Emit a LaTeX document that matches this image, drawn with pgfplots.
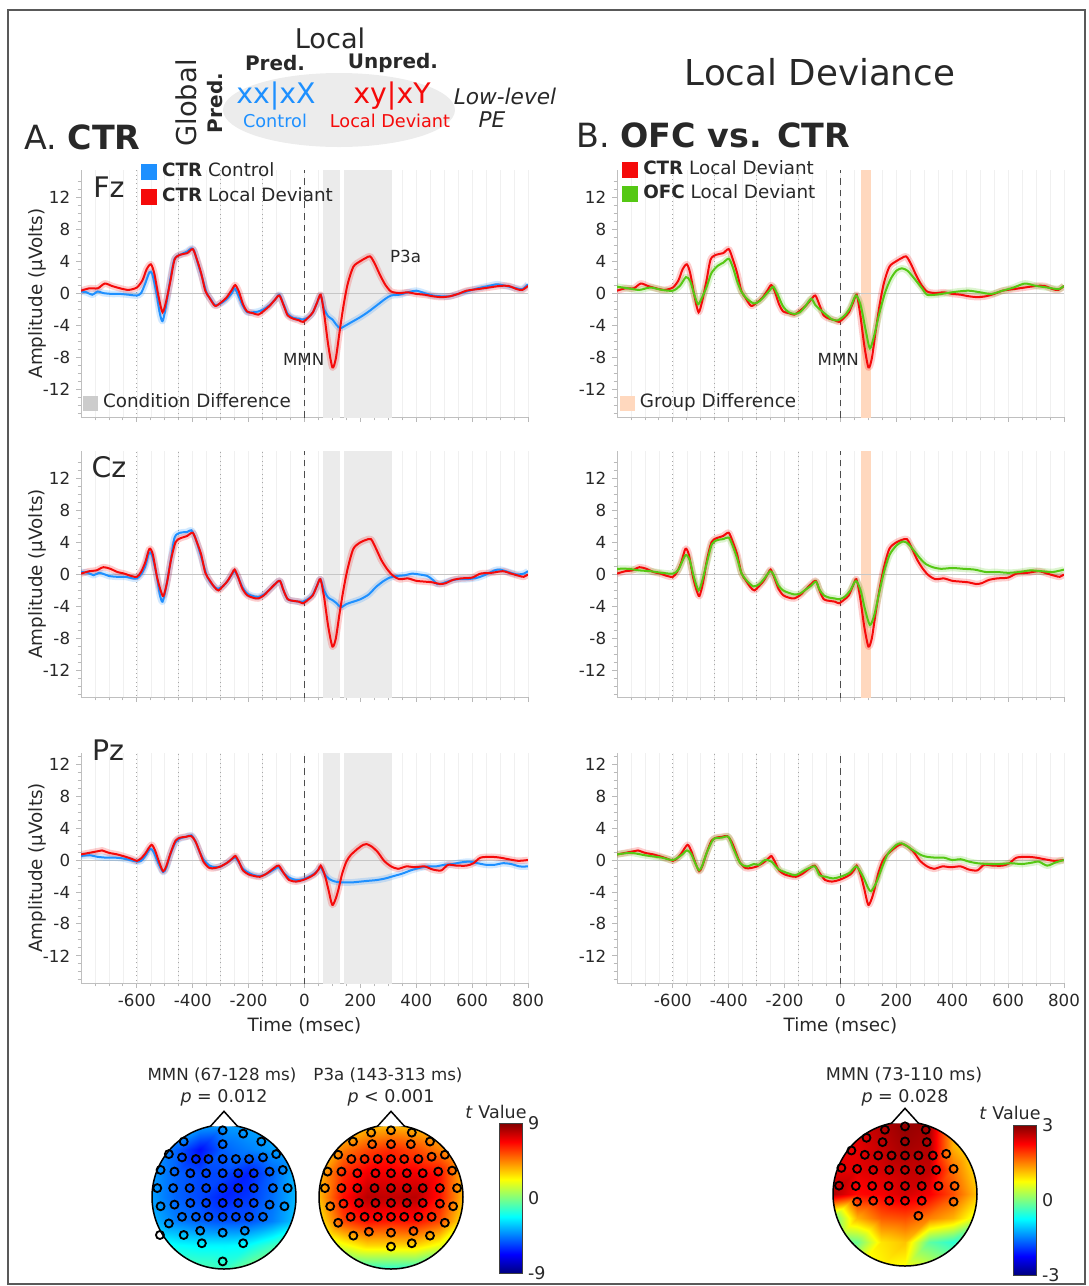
\documentclass[border=0pt]{standalone}
\usepackage{fontspec}
\setmainfont{DejaVu Sans}
\usepackage{pgfplots}
\usepackage{pgfplotstable}
\pgfplotsset{compat=1.18}

\definecolor{ctrblue}{RGB}{30,144,255}
\definecolor{ldred}{RGB}{245,10,10}
\definecolor{ofcgreen}{RGB}{85,200,20}
\definecolor{shadegray}{RGB}{235,235,235}
\definecolor{salmon}{RGB}{255,216,190}
\definecolor{txt}{RGB}{40,40,40}

% ERP traces, msec vs microvolts
\pgfplotstableread[row sep=\\]{t v\\
-800 0.3\\ -770 0.6\\ -740 0.6\\ -715 1.2\\ -690 0.9\\ -660 0.6\\ -630 0.4\\ -600 0.7\\
-580 1.6\\ -565 3.0\\ -550 3.6\\ -538 2.5\\ -522 -0.5\\ -508 -2.4\\ -495 -1.0\\ -480 1.5\\
-465 4.2\\ -445 4.8\\ -420 5.0\\ -400 5.5\\ -385 4.2\\ -370 2.5\\ -355 0.3\\ -340 -0.6\\
-320 -1.6\\ -300 -1.2\\ -280 -0.6\\ -260 0.4\\ -248 1.0\\ -235 0.2\\ -220 -1.4\\ -205 -2.3\\
-185 -2.5\\ -165 -2.7\\ -145 -2.2\\ -125 -1.6\\ -105 -0.8\\ -90 -0.3\\ -75 -1.5\\ -60 -2.8\\
-40 -3.2\\ -20 -3.4\\ -5 -3.6\\ 15 -3.0\\ 30 -2.4\\ 45 -1.2\\ 58 -0.2\\ 70 -2.5\\
85 -6.5\\ 100 -9.3\\ 112 -8.2\\ 125 -5.0\\ 140 -1.5\\ 155 1.2\\ 175 3.3\\ 200 4.0\\
220 4.4\\ 235 4.6\\ 250 3.8\\ 270 2.3\\ 290 1.0\\ 310 0.2\\ 340 0.0\\ 370 0.1\\
400 -0.1\\ 430 -0.2\\ 460 -0.4\\ 490 -0.5\\ 520 -0.4\\ 550 -0.1\\ 580 0.3\\ 620 0.5\\
660 0.7\\ 700 0.9\\ 730 0.9\\ 760 0.5\\ 780 0.4\\ 800 0.9\\
}\fzred
\pgfplotstableread[row sep=\\]{t v\\
-800 0.2\\ -780 0.1\\ -760 -0.2\\ -740 0.2\\ -720 0.0\\ -690 -0.1\\ -660 -0.1\\ -630 -0.2\\
-600 -0.3\\ -585 0.0\\ -570 1.2\\ -555 2.6\\ -545 2.4\\ -530 0.0\\ -518 -2.5\\ -508 -3.5\\
-495 -1.5\\ -480 1.8\\ -465 4.3\\ -445 4.8\\ -420 5.2\\ -405 5.6\\ -395 5.3\\ -380 3.5\\
-365 1.8\\ -350 0.0\\ -335 -0.8\\ -320 -1.5\\ -300 -1.3\\ -280 -0.8\\ -260 0.0\\ -250 0.6\\
-238 -0.2\\ -222 -1.5\\ -205 -2.4\\ -185 -2.4\\ -165 -2.3\\ -145 -2.0\\ -125 -1.5\\ -105 -0.8\\
-90 -0.2\\ -75 -1.4\\ -60 -2.6\\ -40 -3.1\\ -20 -3.2\\ -5 -3.3\\ 15 -3.0\\ 30 -2.4\\
45 -1.2\\ 58 -0.3\\ 70 -2.0\\ 85 -2.9\\ 100 -3.3\\ 115 -4.0\\ 128 -4.4\\ 145 -4.1\\
170 -3.6\\ 200 -3.0\\ 230 -2.3\\ 260 -1.5\\ 290 -0.7\\ 310 -0.3\\ 340 -0.2\\ 370 0.1\\
400 0.3\\ 430 0.0\\ 460 -0.3\\ 490 -0.4\\ 520 -0.4\\ 550 -0.1\\ 580 0.2\\ 620 0.6\\
660 0.9\\ 690 1.1\\ 720 0.9\\ 760 0.6\\ 780 0.5\\ 800 1.1\\
}\fzblue
\pgfplotstableread[row sep=\\]{t v\\
-800 0.8\\ -760 0.6\\ -720 0.4\\ -680 0.7\\ -640 0.4\\ -600 0.3\\ -575 0.9\\ -553 2.0\\
-538 1.5\\ -525 0.0\\ -510 -1.4\\ -495 -0.5\\ -480 0.7\\ -462 2.5\\ -440 3.4\\ -420 3.8\\
-400 4.3\\ -385 3.2\\ -370 1.5\\ -355 0.2\\ -335 -0.7\\ -310 -1.3\\ -290 -1.0\\ -270 -0.3\\
-250 0.5\\ -240 0.8\\ -225 -0.2\\ -205 -1.7\\ -185 -2.4\\ -165 -2.6\\ -145 -2.4\\ -125 -1.6\\
-105 -0.7\\ -90 -1.5\\ -75 -2.0\\ -55 -2.6\\ -30 -3.3\\ -10 -3.4\\ 15 -2.8\\ 35 -1.8\\
55 -0.3\\ 72 -1.5\\ 90 -4.6\\ 105 -6.9\\ 120 -5.4\\ 140 -2.4\\ 160 0.1\\ 180 1.8\\
200 2.8\\ 220 3.1\\ 240 2.8\\ 260 2.0\\ 290 0.7\\ 310 -0.2\\ 340 -0.2\\ 380 0.0\\
420 0.2\\ 460 0.3\\ 500 0.1\\ 540 -0.1\\ 580 0.3\\ 620 0.7\\ 660 1.2\\ 700 0.9\\
740 0.7\\ 780 0.5\\ 800 0.9\\
}\fzgreen
\pgfplotstableread[row sep=\\]{t v\\
-800 0.1\\ -770 0.4\\ -745 0.5\\ -720 0.9\\ -695 0.7\\ -670 0.3\\ -645 0.1\\ -620 -0.2\\
-600 -0.3\\ -585 0.3\\ -570 1.5\\ -555 3.2\\ -543 2.5\\ -528 -0.3\\ -515 -2.0\\ -505 -2.7\\
-492 -1.0\\ -478 1.8\\ -462 4.0\\ -445 4.5\\ -420 4.8\\ -400 5.2\\ -385 4.0\\ -370 2.5\\
-355 0.2\\ -340 -0.7\\ -322 -1.6\\ -308 -2.0\\ -290 -1.4\\ -275 -0.8\\ -258 0.2\\ -250 0.6\\
-238 -0.3\\ -222 -1.8\\ -205 -2.6\\ -185 -2.9\\ -165 -3.0\\ -145 -2.6\\ -125 -1.9\\ -105 -1.2\\
-88 -0.8\\ -75 -2.0\\ -60 -3.1\\ -40 -3.3\\ -20 -3.4\\ -5 -3.6\\ 15 -3.1\\ 30 -2.6\\
45 -1.4\\ 57 -0.6\\ 70 -2.8\\ 85 -6.5\\ 100 -9.0\\ 112 -8.0\\ 125 -5.0\\ 140 -1.8\\
155 0.8\\ 175 3.2\\ 200 4.0\\ 220 4.3\\ 238 4.4\\ 255 3.3\\ 275 1.8\\ 295 0.7\\
315 -0.1\\ 340 -0.6\\ 370 -0.5\\ 400 -0.8\\ 430 -0.9\\ 460 -1.0\\ 485 -1.2\\ 505 -1.1\\
530 -0.7\\ 560 -0.5\\ 600 -0.4\\ 630 0.1\\ 670 0.2\\ 710 0.4\\ 740 0.1\\ 770 -0.2\\
785 -0.3\\ 800 0.0\\
}\czred
\pgfplotstableread[row sep=\\]{t v\\
-800 0.3\\ -775 0.2\\ -755 -0.1\\ -735 0.2\\ -715 0.0\\ -700 -0.2\\ -670 -0.3\\ -640 -0.3\\
-615 -0.5\\ -600 -0.5\\ -585 0.0\\ -570 1.0\\ -556 2.7\\ -546 2.4\\ -530 0.0\\ -518 -2.5\\
-508 -3.4\\ -495 -1.5\\ -480 1.5\\ -465 4.6\\ -445 5.2\\ -420 5.3\\ -405 5.5\\ -390 4.5\\
-375 2.8\\ -360 1.0\\ -348 -0.3\\ -330 -1.3\\ -310 -1.8\\ -290 -1.4\\ -275 -0.8\\ -258 0.1\\
-250 0.4\\ -238 -0.3\\ -222 -1.6\\ -205 -2.4\\ -185 -2.7\\ -165 -2.8\\ -145 -2.5\\ -125 -1.9\\
-105 -1.2\\ -88 -0.8\\ -75 -2.0\\ -60 -3.1\\ -40 -3.3\\ -20 -3.4\\ -5 -3.4\\ 15 -3.0\\
30 -2.5\\ 45 -1.4\\ 57 -0.6\\ 70 -2.0\\ 85 -2.9\\ 100 -3.2\\ 115 -3.6\\ 130 -4.1\\
150 -3.7\\ 175 -3.4\\ 200 -3.1\\ 230 -2.5\\ 255 -1.6\\ 280 -0.9\\ 305 -0.4\\ 330 -0.2\\
360 -0.1\\ 385 0.1\\ 410 0.0\\ 440 -0.2\\ 460 -0.7\\ 475 -1.2\\ 495 -1.1\\ 520 -0.8\\
550 -0.6\\ 580 -0.6\\ 620 -0.4\\ 650 0.0\\ 680 0.5\\ 700 0.6\\ 730 0.3\\ 760 0.0\\
785 0.1\\ 800 0.4\\
}\czblue
\pgfplotstableread[row sep=\\]{t v\\
-800 0.7\\ -760 0.7\\ -720 0.5\\ -680 0.4\\ -640 0.2\\ -600 0.1\\ -580 0.6\\ -555 2.4\\
-540 1.8\\ -525 -0.3\\ -508 -2.0\\ -495 -0.8\\ -478 1.5\\ -460 3.8\\ -440 4.3\\ -420 4.4\\
-400 4.6\\ -385 3.5\\ -370 2.0\\ -355 0.2\\ -335 -0.8\\ -312 -1.5\\ -290 -1.2\\ -270 -0.4\\
-252 0.4\\ -240 0.0\\ -222 -1.4\\ -205 -2.0\\ -185 -2.3\\ -165 -2.5\\ -145 -2.4\\ -125 -1.9\\
-105 -1.4\\ -88 -0.9\\ -75 -1.9\\ -60 -2.6\\ -40 -2.9\\ -20 -3.0\\ -5 -3.1\\ 15 -2.8\\
35 -2.0\\ 55 -0.8\\ 72 -2.0\\ 88 -4.4\\ 105 -6.3\\ 120 -5.2\\ 138 -2.4\\ 155 0.2\\
175 2.4\\ 200 3.6\\ 222 4.1\\ 240 3.9\\ 262 3.0\\ 285 2.0\\ 305 1.3\\ 330 0.9\\
360 0.7\\ 400 0.8\\ 440 0.7\\ 480 0.6\\ 520 0.3\\ 560 0.3\\ 600 0.2\\ 640 0.3\\
680 0.5\\ 720 0.4\\ 760 0.3\\ 800 0.6\\
}\czgreen
\pgfplotstableread[row sep=\\]{t v\\
-800 0.7\\ -770 0.9\\ -740 1.1\\ -725 1.2\\ -700 0.9\\ -670 0.7\\ -640 0.4\\ -615 0.1\\
-600 -0.1\\ -585 0.2\\ -570 0.8\\ -548 1.9\\ -535 1.2\\ -520 -0.3\\ -506 -1.4\\ -495 -0.8\\
-480 0.8\\ -462 2.4\\ -445 2.8\\ -425 2.9\\ -405 3.0\\ -390 2.3\\ -375 1.0\\ -360 -0.3\\
-340 -1.0\\ -320 -1.0\\ -300 -0.8\\ -275 -0.3\\ -255 0.3\\ -247 0.5\\ -235 -0.2\\ -220 -1.3\\
-200 -1.8\\ -180 -2.0\\ -160 -2.1\\ -140 -1.8\\ -124 -1.4\\ -105 -0.9\\ -92 -0.7\\ -75 -1.6\\
-55 -2.5\\ -30 -2.7\\ -5 -2.5\\ 15 -2.2\\ 35 -1.8\\ 50 -1.2\\ 58 -0.7\\ 72 -1.8\\
85 -3.6\\ 99 -5.6\\ 110 -5.0\\ 120 -3.9\\ 135 -1.7\\ 150 -0.2\\ 165 0.6\\ 190 1.4\\
210 1.9\\ 222 2.0\\ 240 1.7\\ 262 1.0\\ 285 -0.1\\ 310 -0.8\\ 335 -1.1\\ 365 -0.8\\
395 -0.9\\ 430 -0.8\\ 460 -1.2\\ 490 -1.3\\ 514 -0.6\\ 545 -0.7\\ 580 -0.7\\ 605 -0.4\\
630 0.3\\ 670 0.4\\ 700 0.3\\ 730 0.1\\ 765 -0.1\\ 800 0.0\\
}\pzred
\pgfplotstableread[row sep=\\]{t v\\
-800 0.5\\ -770 0.6\\ -740 0.4\\ -710 0.3\\ -680 0.3\\ -650 0.2\\ -625 0.0\\ -600 -0.2\\
-585 -0.1\\ -570 0.5\\ -552 1.4\\ -540 1.0\\ -522 -0.5\\ -506 -1.5\\ -495 -1.0\\ -480 0.7\\
-462 2.2\\ -445 2.7\\ -425 2.9\\ -405 3.1\\ -390 2.3\\ -375 1.0\\ -360 0.0\\ -340 -0.7\\
-320 -0.9\\ -300 -0.8\\ -275 -0.3\\ -255 0.2\\ -247 0.3\\ -235 -0.3\\ -220 -1.1\\ -200 -1.6\\
-180 -1.9\\ -160 -2.0\\ -140 -1.8\\ -124 -1.5\\ -105 -1.1\\ -92 -0.9\\ -75 -1.6\\ -55 -2.2\\
-30 -2.5\\ -5 -2.4\\ 15 -2.1\\ 35 -1.7\\ 50 -1.2\\ 58 -0.9\\ 72 -1.8\\ 90 -2.4\\
110 -2.7\\ 135 -2.8\\ 170 -2.8\\ 200 -2.7\\ 230 -2.6\\ 260 -2.5\\ 290 -2.3\\ 320 -2.0\\
350 -1.7\\ 380 -1.3\\ 410 -1.0\\ 440 -0.8\\ 470 -0.8\\ 500 -0.6\\ 530 -0.5\\ 560 -0.3\\
590 -0.2\\ 620 -0.4\\ 650 -0.6\\ 680 -0.6\\ 710 -0.4\\ 740 -0.5\\ 770 -0.8\\ 800 -0.8\\
}\pzblue
\pgfplotstableread[row sep=\\]{t v\\
-800 0.7\\ -750 0.9\\ -700 0.6\\ -640 0.3\\ -600 0.0\\ -570 0.6\\ -550 1.2\\ -535 0.8\\
-520 -0.4\\ -506 -1.3\\ -495 -0.7\\ -480 0.8\\ -455 2.6\\ -425 2.8\\ -401 2.9\\ -383 1.4\\
-359 -0.4\\ -335 -0.8\\ -310 -0.5\\ -293 -0.6\\ -270 0.0\\ -247 -0.2\\ -220 -1.2\\ -184 -1.7\\
-160 -1.9\\ -124 -1.2\\ -92 -0.8\\ -75 -1.9\\ -52 -2.1\\ -28 -2.3\\ 0 -2.1\\ 33 -1.6\\
57 -0.8\\ 81 -2.1\\ 99 -3.5\\ 110 -3.9\\ 130 -2.7\\ 150 -0.8\\ 170 0.8\\ 200 1.9\\
219 2.1\\ 240 1.7\\ 261 1.2\\ 290 0.6\\ 310 0.4\\ 340 0.3\\ 370 0.3\\ 400 0.0\\
430 0.1\\ 460 -0.2\\ 490 -0.4\\ 530 -0.5\\ 570 -0.5\\ 610 -0.4\\ 650 -0.5\\ 690 -0.3\\
710 -0.2\\ 740 -0.7\\ 770 -0.3\\ 800 0.0\\
}\pzgreen

\pgfplotsset{
  /pgf/number format/assume math mode=true,
  erp/.style={
    scale only axis, width=268.2pt, anchor=south west,
    xmin=-800, xmax=800,
    axis x line*=bottom, axis y line*=left,
    axis line style={draw=gray!50, line width=0.6pt},
    xtick={-600,-400,...,800},
    minor xtick={-750,-700,...,750},
    ytick={-12,-8,...,12},
    minor ytick={-15,-14,...,14},
    tick style={draw=gray!55, line width=0.5pt},
    major tick length=3pt, minor tick length=2pt,
    tick align=outside,
    xmajorgrids, xminorgrids,
    major grid style={draw=gray!12, line width=0.4pt},
    minor grid style={draw=gray!12, line width=0.4pt},
    ticklabel style={font=\fontsize{10}{12}\selectfont, text=txt},
    label style={font=\fontsize{11}{13}\selectfont, text=txt},
    ylabel shift=-9pt,
    legend cell align=left,
    legend style={draw=none, fill=none, anchor=north west, inner sep=0pt,
      font=\fontsize{11}{13}\selectfont, text=txt, row sep=2pt, column sep=2pt,
      nodes={inner sep=1pt, text height=8pt, text depth=2.5pt}},
    legend image code/.code={\fill[##1] (0pt,-4.2pt) rectangle (8.4pt,4.2pt);},
  },
  keyax/.style={
    scale only axis, width=268.2pt, anchor=south west, hide axis,
    xmin=0, xmax=1, ymin=0, ymax=1,
    legend style={draw=none, fill=none, anchor=north west, inner sep=0pt,
      font=\fontsize{11}{13}\selectfont, text=txt, column sep=2pt,
      nodes={inner sep=1pt, text height=8pt, text depth=2.5pt}},
    legend image code/.code={\fill[##1] (0pt,-4.2pt) rectangle (8.4pt,4.2pt);},
  },
  ln/.style={line width=1.2pt, smooth, tension=0.45, mark=none},
  band/.style={line width=4pt, opacity=0.2, smooth, tension=0.45, mark=none,
    forget plot, line join=round},
  topo/.style={
    scale only axis, width=86.4pt, height=86.4pt, anchor=south west,
    xmin=-3, xmax=3, ymin=-3, ymax=3, hide axis, clip=false,
    colormap/jet,
  },
  elec/.style={only marks, mark=o, mark size=2.4pt,
    mark options={draw=black, line width=1.1pt}},
  cbar/.style={
    scale only axis, width=13.8pt, height=90pt,
    ytick={-9,0,9}, major tick length=0pt,
    yticklabel style={font=\fontsize{10.5}{12}\selectfont, text=txt},
    axis line style={draw=black!75, line width=0.6pt},
  },
}

\newcommand\stimlines{%
  \addplot[gray!70, dotted, line width=0.6pt, forget plot] coordinates {(-600,-20) (-600,20)};
  \addplot[gray!70, dotted, line width=0.6pt, forget plot] coordinates {(-450,-20) (-450,20)};
  \addplot[gray!70, dotted, line width=0.6pt, forget plot] coordinates {(-300,-20) (-300,20)};
  \addplot[gray!70, dotted, line width=0.6pt, forget plot] coordinates {(-150,-20) (-150,20)};
  \addplot[gray!60!black, dash pattern=on 4pt off 3pt, line width=0.7pt, forget plot] coordinates {(0,-20) (0,20)};
  \addplot[gray!45, line width=0.6pt, forget plot] coordinates {(-800,0) (800,0)};
}
\newcommand\condshade{%
  \addplot[fill=shadegray, draw=none, forget plot] coordinates {(67,-20) (67,20) (128,20) (128,-20)} -- cycle;
  \addplot[fill=shadegray, draw=none, forget plot] coordinates {(143,-20) (143,20) (313,20) (313,-20)} -- cycle;
}
\newcommand\groupshade{%
  \addplot[fill=salmon, draw=none, forget plot] coordinates {(73,-20) (73,20) (110,20) (110,-20)} -- cycle;
}
\newcommand\headframe{%
  \fill[white, even odd rule] (axis cs:-3.25,-3.25) rectangle (axis cs:3.25,3.25) (axis cs:0,0) circle[radius=3];
  \draw[black, line width=0.9pt] (axis cs:0,0) circle[radius=3];
  \draw[black, line width=0.9pt, fill=white] (axis cs:-0.57,2.94) -- (axis cs:0,3.57) -- (axis cs:0.57,2.94);
}

\begin{document}
\begin{tikzpicture}
\useasboundingbox (0,0) rectangle (653.4pt,-771.6pt);
\draw[black!65, line width=0.9pt] (4.8pt,-6pt) rectangle (651pt,-770.4pt);

% ---------------- header ----------------
\fill[gray!15] (203.4pt,-66pt) ellipse [x radius=69.6pt, y radius=22.2pt];
\node[text=txt, font=\fontsize{16.3}{18}\selectfont] at (198pt,-22.8pt) {Local};
\node[text=txt, font=\bfseries\fontsize{12}{14}\selectfont] at (165pt,-37.8pt) {Pred.};
\node[text=txt, font=\bfseries\fontsize{12}{14}\selectfont] at (235.8pt,-37.8pt) {Unpred.};
\node[text=txt, rotate=90, font=\fontsize{16.4}{18}\selectfont] at (111.6pt,-61.8pt) {Global};
\node[text=txt, rotate=90, font=\bfseries\fontsize{12}{14}\selectfont] at (129pt,-61.8pt) {Pred.};
\node[text=ctrblue, font=\fontsize{17}{19}\selectfont] at (165.6pt,-57.6pt) {xx|xX};
\node[text=ldred, font=\fontsize{17}{19}\selectfont] at (235.2pt,-57.6pt) {xy|xY};
\node[text=ctrblue, font=\fontsize{10.6}{12}\selectfont] at (165pt,-72.6pt) {Control};
\node[text=ldred, font=\fontsize{10.6}{12}\selectfont] at (234pt,-72.6pt) {Local Deviant};
\node[text=txt, font=\itshape\fontsize{13}{15}\selectfont] at (303pt,-57.6pt) {Low-level};
\node[text=txt, font=\itshape\fontsize{13}{15}\selectfont] at (295.2pt,-72pt) {PE};
\node[text=txt, anchor=west, inner sep=0pt, font=\fontsize{20}{24}\selectfont] at (14.4pt,-82.2pt) {A. \textbf{CTR}};
\node[text=txt, anchor=west, inner sep=0pt, font=\fontsize{20}{24}\selectfont] at (345.6pt,-81pt) {B. \textbf{OFC vs. CTR}};
\node[text=txt, font=\fontsize{21.4}{24}\selectfont] at (492pt,-43.2pt) {Local Deviance};

% ---------------- A: Fz ----------------
\begin{axis}[erp, at={(48.6pt,-250.2pt)}, height=148.2pt, ymin=-15.5, ymax=15.4,
  xticklabels={}, ylabel={Amplitude (µVolts)},
  legend style={at={(0.134,1.034)}}]
\condshade
\stimlines
\addplot[band, ctrblue] table {\fzblue};
\addplot[band, ldred] table {\fzred};
\addplot[ln, ctrblue] table {\fzblue}; \addlegendentry{\textbf{CTR} Control}
\addplot[ln, ldred] table {\fzred}; \addlegendentry{\textbf{CTR} Local Deviant}
\node[text=txt, font=\fontsize{10}{12}\selectfont] at (axis cs:-3,-8.3) {MMN};
\node[text=txt, font=\fontsize{10}{12}\selectfont] at (axis cs:362,4.6) {P3a};
\end{axis}
\begin{axis}[keyax, at={(48.6pt,-250.2pt)}, height=148.2pt,
  legend style={at={(0.0045,0.099)}}]
\addplot[draw=none, forget plot] coordinates {(0.5,0.5)};
\addlegendimage{gray!40}
\addlegendentry{Condition Difference}
\end{axis}

% ---------------- A: Cz ----------------
\begin{axis}[erp, at={(48.6pt,-418.2pt)}, height=147.6pt, ymin=-15.3, ymax=15.4,
  xticklabels={}, ylabel={Amplitude (µVolts)}]
\condshade
\stimlines
\addplot[band, ctrblue] table {\czblue};
\addplot[band, ldred] table {\czred};
\addplot[ln, ctrblue] table {\czblue};
\addplot[ln, ldred] table {\czred};
\end{axis}

% ---------------- A: Pz ----------------
\begin{axis}[erp, at={(48.6pt,-589.8pt)}, height=138pt, ymin=-15.4, ymax=13.4,
  ylabel={Amplitude (µVolts)}, xlabel={Time (msec)}]
\condshade
\stimlines
\addplot[band, ctrblue] table {\pzblue};
\addplot[band, ldred] table {\pzred};
\addplot[ln, ctrblue] table {\pzblue};
\addplot[ln, ldred] table {\pzred};
\end{axis}

% ---------------- B: Fz ----------------
\begin{axis}[erp, at={(370.2pt,-250.2pt)}, height=148.2pt, ymin=-15.5, ymax=15.4,
  xticklabels={}, legend style={at={(0.011,1.043)}}]
\groupshade
\stimlines
\addplot[band, ldred] table {\fzred};
\addplot[band, ofcgreen] table {\fzgreen};
\addplot[ln, ldred] table {\fzred}; \addlegendentry{\textbf{CTR} Local Deviant}
\addplot[ln, ofcgreen] table {\fzgreen}; \addlegendentry{\textbf{OFC} Local Deviant}
\node[text=txt, font=\fontsize{10}{12}\selectfont] at (axis cs:-8,-8.3) {MMN};
\end{axis}
\begin{axis}[keyax, at={(370.2pt,-250.2pt)}, height=148.2pt,
  legend style={at={(0.0067,0.099)}}]
\addplot[draw=none, forget plot] coordinates {(0.5,0.5)};
\addlegendimage{salmon}
\addlegendentry{Group Difference}
\end{axis}

% ---------------- B: Cz ----------------
\begin{axis}[erp, at={(370.2pt,-418.2pt)}, height=147.6pt, ymin=-15.3, ymax=15.4,
  xticklabels={}]
\groupshade
\stimlines
\addplot[band, ldred] table {\czred};
\addplot[band, ofcgreen] table {\czgreen};
\addplot[ln, ldred] table {\czred};
\addplot[ln, ofcgreen] table {\czgreen};
\end{axis}

% ---------------- B: Pz ----------------
\begin{axis}[erp, at={(370.2pt,-589.8pt)}, height=138pt, ymin=-15.4, ymax=13.4,
  xlabel={Time (msec)}]
\stimlines
\addplot[band, ldred] table {\pzred};
\addplot[band, ofcgreen] table {\pzgreen};
\addplot[ln, ldred] table {\pzred};
\addplot[ln, ofcgreen] table {\pzgreen};
\end{axis}

\node[text=txt, font=\fontsize{17}{19}\selectfont] at (65.4pt,-112.2pt) {Fz};
\node[text=txt, font=\fontsize{17}{19}\selectfont] at (65.4pt,-280.2pt) {Cz};
\node[text=txt, font=\fontsize{17}{19}\selectfont] at (64.8pt,-450pt) {Pz};

% ---------------- topographies ----------------
\node[text=txt, font=\fontsize{10}{12}\selectfont] at (133.2pt,-645pt) {MMN (67-128 ms)};
\node[text=txt, font=\fontsize{10}{12}\selectfont] at (232.8pt,-645pt) {P3a (143-313 ms)};
\node[text=txt, font=\fontsize{10.5}{12}\selectfont] at (134.4pt,-658.8pt) {\textit{p} = 0.012};
\node[text=txt, font=\fontsize{10.5}{12}\selectfont] at (234.6pt,-658.8pt) {\textit{p} < 0.001};
\node[text=txt, font=\fontsize{10.5}{12}\selectfont] at (542.4pt,-645pt) {MMN (73-110 ms)};
\node[text=txt, font=\fontsize{10.5}{12}\selectfont] at (543pt,-658.8pt) {\textit{p} = 0.028};

% CTR, MMN window
\begin{axis}[topo, at={(91.2pt,-761.4pt)}, point meta min=-9, point meta max=9]
\addplot[surf, shader=interp, mesh/cols=7, mesh/rows=7, point meta=explicit]
  table[row sep=\\, meta=c] {x y c\\
  -3 3 -3.5\\ -2 3 -3.5\\ -1 3 -3.8\\ 0 3 -4\\ 1 3 -3.8\\ 2 3 -3.5\\ 3 3 -3.5\\
  -3 2 -3.5\\ -2 2 -5\\ -1 2 -6.5\\ 0 2 -5\\ 1 2 -4.5\\ 2 2 -4\\ 3 2 -3.5\\
  -3 1 -4\\ -2 1 -5\\ -1 1 -5.5\\ 0 1 -5.5\\ 1 1 -6.2\\ 2 1 -5\\ 3 1 -3.5\\
  -3 0 -4\\ -2 0 -5\\ -1 0 -5.5\\ 0 0 -6.2\\ 1 0 -5.8\\ 2 0 -4.8\\ 3 0 -3.5\\
  -3 -1 -3.5\\ -2 -1 -4.5\\ -1 -1 -5\\ 0 -1 -5.3\\ 1 -1 -5.3\\ 2 -1 -4.5\\ 3 -1 -3.2\\
  -3 -2 -1.8\\ -2 -2 -2.2\\ -1 -2 -2.4\\ 0 -2 -2.4\\ 1 -2 -2.2\\ 2 -2 -1.2\\ 3 -2 -0.5\\
  -3 -3 -0.3\\ -2 -3 -0.6\\ -1 -3 -0.8\\ 0 -3 -1.2\\ 1 -3 0\\ 2 -3 1.0\\ 3 -3 1.4\\
  };
\headframe
\addplot[elec] table[row sep=\\, header=false, x expr=(\thisrowno{0}-372)/72.67, y expr=(410-\thisrowno{1})/72.67] {
  368 208\\ 430 218\\ 250 242\\ 368 250\\ 485 242\\
  205 280\\ 245 290\\ 287 295\\ 325 295\\ 368 295\\ 408 295\\ 448 295\\ 490 290\\ 530 280\\
  180 328\\ 222 333\\ 270 338\\ 318 338\\ 368 338\\ 415 338\\ 462 338\\ 510 333\\ 550 328\\
  170 383\\ 218 383\\ 268 383\\ 318 383\\ 368 383\\ 415 383\\ 462 383\\ 520 383\\ 565 383\\
  180 438\\ 222 433\\ 270 428\\ 318 428\\ 368 428\\ 415 428\\ 462 428\\ 510 433\\ 555 438\\
  205 490\\ 245 470\\ 287 470\\ 325 470\\ 368 470\\ 408 470\\ 448 470\\ 490 470\\
  250 525\\ 300 512\\ 368 518\\ 435 512\\ 178 525\\ 305 550\\ 430 550\\ 368 605\\
  };
\end{axis}

% CTR, P3a window
\begin{axis}[topo, at={(191.4pt,-761.4pt)}, point meta min=-9, point meta max=9,
  colorbar, colorbar style={cbar, at={(parent axis.north east)}, anchor=north west,
    xshift=13.2pt, yshift=1.2pt}]
\addplot[surf, shader=interp, mesh/cols=7, mesh/rows=7, point meta=explicit]
  table[row sep=\\, meta=c] {x y c\\
  -3 3 2.5\\ -2 3 2.8\\ -1 3 3.3\\ 0 3 3.5\\ 1 3 3.3\\ 2 3 2.8\\ 3 3 2.5\\
  -3 2 2.8\\ -2 2 4.5\\ -1 2 5.5\\ 0 2 6\\ 1 2 5.5\\ 2 2 4.5\\ 3 2 2.8\\
  -3 1 3.5\\ -2 1 6\\ -1 1 7\\ 0 1 7\\ 1 1 7\\ 2 1 6.5\\ 3 1 3.5\\
  -3 0 3.5\\ -2 0 6.5\\ -1 0 8\\ 0 0 7.8\\ 1 0 8\\ 2 0 6.5\\ 3 0 3.5\\
  -3 -1 2.5\\ -2 -1 5.5\\ -1 -1 6.5\\ 0 -1 6.3\\ 1 -1 6.5\\ 2 -1 5.5\\ 3 -1 2.5\\
  -3 -2 0.5\\ -2 -2 2\\ -1 -2 3\\ 0 -2 3\\ 1 -2 3\\ 2 -2 2\\ 3 -2 0.5\\
  -3 -3 -1.5\\ -2 -3 -1.8\\ -1 -3 -1.5\\ 0 -3 -1.5\\ 1 -3 -1.5\\ 2 -3 -1.8\\ 3 -3 -1.5\\
  };
\headframe
\addplot[elec] table[row sep=\\, header=false, x expr=(\thisrowno{0}-872)/72.67, y expr=(410-\thisrowno{1})/72.67] {
  812 215\\ 872 208\\ 935 215\\
  757 242\\ 815 250\\ 872 250\\ 932 250\\ 990 242\\
  712 282\\ 752 295\\ 792 295\\ 832 295\\ 872 295\\ 912 295\\ 955 295\\ 995 288\\ 1035 282\\
  680 333\\ 722 333\\ 770 338\\ 825 338\\ 872 338\\ 920 338\\ 968 338\\ 1015 333\\ 1057 330\\
  672 383\\ 722 383\\ 770 383\\ 822 383\\ 872 383\\ 920 383\\ 968 383\\ 1020 383\\ 1072 383\\
  688 438\\ 728 430\\ 775 428\\ 825 428\\ 872 428\\ 920 428\\ 968 428\\ 1020 430\\ 1060 438\\
  712 488\\ 750 470\\ 792 470\\ 832 470\\ 872 470\\ 912 470\\ 955 470\\ 995 470\\ 1035 488\\
  758 527\\ 805 515\\ 872 518\\ 940 513\\ 990 527\\ 872 560\\ 935 550\\
  };
\end{axis}

% OFC vs CTR, MMN window
\begin{axis}[topo, at={(499.8pt,-759.6pt)}, point meta min=-3, point meta max=3,
  colorbar, colorbar style={cbar, ytick={-3,0,3}, at={(parent axis.north east)},
    anchor=north west, xshift=13.2pt, yshift=-1.8pt}]
\addplot[surf, shader=interp, mesh/cols=7, mesh/rows=7, point meta=explicit]
  table[row sep=\\, meta=c] {x y c\\
  -3 3 2.3\\ -2 3 2.5\\ -1 3 2.7\\ 0 3 2.9\\ 1 3 2.8\\ 2 3 1.2\\ 3 3 0.8\\
  -3 2 2.3\\ -2 2 2.4\\ -1 2 2.6\\ 0 2 2.8\\ 1 2 2.7\\ 2 2 1.2\\ 3 2 0.7\\
  -3 1 2.4\\ -2 1 2.4\\ -1 1 2.5\\ 0 1 2.6\\ 1 1 2.6\\ 2 1 1.6\\ 3 1 0.9\\
  -3 0 2.7\\ -2 0 2.2\\ -1 0 2.3\\ 0 0 2.5\\ 1 0 2.3\\ 2 0 1.8\\ 3 0 1.1\\
  -3 -1 -0.2\\ -2 -1 1.2\\ -1 -1 1.7\\ 0 -1 1.8\\ 1 -1 1.5\\ 2 -1 1.2\\ 3 -1 0.5\\
  -3 -2 -0.3\\ -2 -2 -0.1\\ -1 -2 0.9\\ 0 -2 1.1\\ 1 -2 -0.2\\ 2 -2 -0.5\\ 3 -2 0.3\\
  -3 -3 0.5\\ -2 -3 0.6\\ -1 -3 0.8\\ 0 -3 0.7\\ 1 -3 0.4\\ 2 -3 0.3\\ 3 -3 0.5\\
  };
\headframe
\addplot[elec] table[row sep=\\, header=false, x expr=(\thisrowno{0}-375)/71.67, y expr=(400-\thisrowno{1})/71.67] {
  315 208\\ 375 198\\ 437 208\\
  260 232\\ 308 245\\ 375 243\\ 440 245\\
  215 270\\ 255 283\\ 295 285\\ 335 285\\ 375 285\\ 415 285\\ 458 285\\ 498 280\\
  185 322\\ 232 325\\ 280 328\\ 328 328\\ 375 328\\ 420 328\\ 468 328\\ 520 325\\
  178 375\\ 228 376\\ 277 376\\ 326 376\\ 375 376\\ 425 376\\ 475 376\\ 523 376\\
  232 423\\ 280 420\\ 328 420\\ 375 420\\ 425 420\\ 520 423\\ 415 465\\
  };
\end{axis}

\node[text=txt, font=\fontsize{10.5}{12}\selectfont] at (297.6pt,-667.2pt) {\textit{t} Value};
\node[text=txt, font=\fontsize{10.5}{12}\selectfont] at (606pt,-667.8pt) {\textit{t} Value};
\end{tikzpicture}
\end{document}
